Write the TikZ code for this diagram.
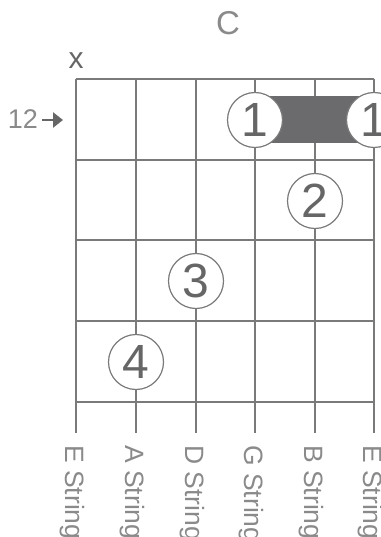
\documentclass[tikz,border=0pt]{standalone}
\usepackage{fontspec}
\setmainfont{Liberation Sans}
\usetikzlibrary{arrows.meta}
\definecolor{gridc}{HTML}{7A7A7A}
\definecolor{txtc}{HTML}{8A8A8A}
\definecolor{numc}{HTML}{666666}
\definecolor{barc}{HTML}{6B6B6E}
\tikzset{
  gridline/.style={draw=gridc, line width=1.3pt},
  finger/.style={circle, draw=gridc, fill=white, line width=1.2pt, minimum size=55pt, inner sep=0pt, text=numc, font=\fontsize{48}{48}\selectfont},
  strlabel/.style={rotate=-90, anchor=base west, text=txtc, inner sep=0pt, font=\fontsize{26.5}{26.5}\selectfont}
}
\begin{document}
\begin{tikzpicture}[x=1pt,y=-1pt]
\useasboundingbox (0,0) rectangle (380,537);
% strings
\foreach \i/\x in {1/76,2/136,3/196,4/255,5/315,6/374}{
  \coordinate (s\i t) at (\x,79);
  \coordinate (s\i b) at (\x,433);
  \draw[gridline] (s\i t) -- (s\i b);
}
% frets
\foreach \j/\y in {0/79,1/160,2/240,3/321,4/402}{
  \coordinate (f\j l) at (76,\y);
  \coordinate (f\j r) at (374,\y);
  \draw[gridline] (f\j l) -- (f\j r);
}
% barre
\fill[barc] (255,96) rectangle (374,143);
% fingers
\node[finger] (b1) at (255,120) {1};
\node[finger] (b2) at (374,120) {1};
\node[finger] (f2) at (315,201) {2};
\node[finger] (f3) at (196,281) {3};
\node[finger] (f4) at (136,362) {4};
% title and marks
\node[text=txtc, font=\fontsize{33}{33}\selectfont] (title) at (228,23) {C};
\node[text=numc, font=\fontsize{30}{30}\selectfont] (mute) at (76,61) {x};
\node[text=txtc, anchor=east, inner sep=0pt, font=\fontsize{27}{27}\selectfont] (fretno) at (38,119) {12};
\coordinate (arrS) at (42,120);
\coordinate (arrE) at (63,120);
\draw[draw=numc, line width=2.6pt, -{Triangle[length=10pt,width=15pt]}] (arrS) -- (arrE);
% string labels
\node[strlabel] (l1) at (65,445) {E String};
\node[strlabel] (l2) at (125,445) {A String};
\node[strlabel] (l3) at (185,445) {D String};
\node[strlabel] (l4) at (244,445) {G String};
\node[strlabel] (l5) at (304,445) {B String};
\node[strlabel] (l6) at (363,445) {E String};
\end{tikzpicture}
\end{document}
